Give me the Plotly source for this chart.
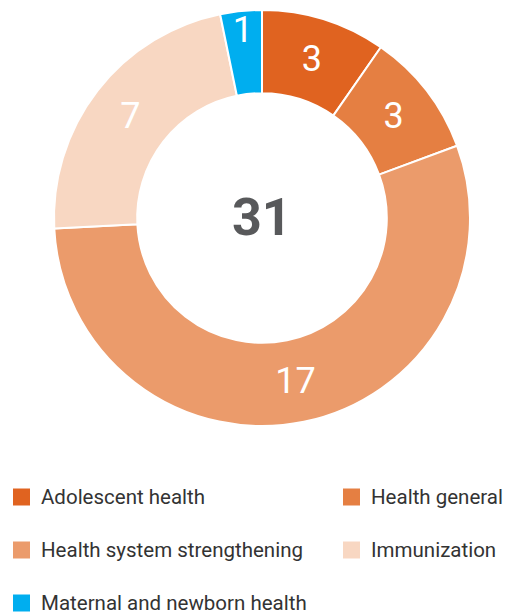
import plotly.graph_objects as go

labels = ["Adolescent health", "Health general", "Health system strengthening", "Immunization", "Maternal and newborn health"]
values = [3, 3, 17, 7, 1]
colors = ["#E06320", "#E57F42", "#EB9B6B", "#F8D7C2", "#00AEEF"]
total_label = "31"

W, H = 514, 616
OFF = 8  # page body margin compensation


def px(x):
    return (x - OFF) / W


def py(y):
    return 1 - (y - OFF) / H


fig = go.Figure()
fig.add_trace(go.Pie(
    labels=labels, values=values, sort=False, direction="clockwise", rotation=0,
    hole=0.6, marker=dict(colors=colors, line=dict(color="white", width=2)),
    textinfo="value", textposition="inside", insidetextorientation="horizontal",
    insidetextfont=dict(color="white", size=36, family="Roboto"),
    domain=dict(x=[px(54), px(470)], y=[py(426), py(10)]),
    showlegend=False,
))

annotations = [dict(text="<b>" + total_label + "</b>", x=px(262), y=py(218), xref="paper", yref="paper",
                    showarrow=False, font=dict(size=52, color="#58595B", family="Roboto"))]
shapes = []
col_x = [13, 343]
row_y = [497, 550, 603]
for i, (lab, c) in enumerate(zip(labels, colors)):
    cx = col_x[i % 2]
    cy = row_y[i // 2]
    shapes.append(dict(type="rect", xref="paper", yref="paper",
                       x0=px(cx), x1=px(cx + 17), y0=py(cy + 8.5), y1=py(cy - 8.5),
                       fillcolor=c, line=dict(width=0)))
    annotations.append(dict(text=lab, x=px(cx + 26), y=py(cy), xref="paper", yref="paper",
                            xanchor="left", yanchor="middle", showarrow=False,
                            font=dict(size=20.5, color="#333333", family="Roboto")))

fig.update_layout(width=W, height=H, margin=dict(l=0, r=0, t=0, b=0),
                  paper_bgcolor="white", plot_bgcolor="white",
                  uniformtext=dict(minsize=36, mode="show"),
                  annotations=annotations, shapes=shapes)
fig.write_html("out.html")
